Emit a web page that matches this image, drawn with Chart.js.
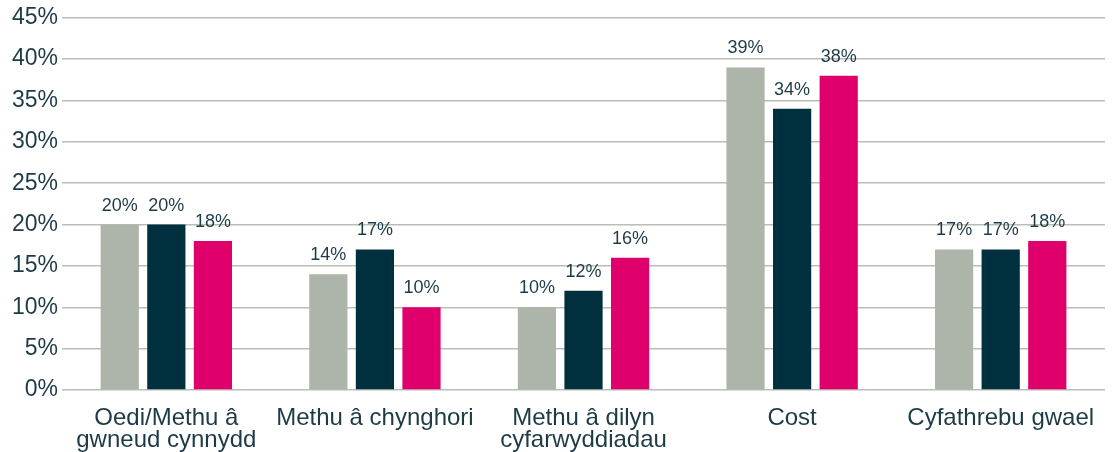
<!DOCTYPE html>
<html>
<head>
<meta charset="utf-8">
<script src="https://cdn.jsdelivr.net/npm/chart.js@4.4.1/dist/chart.umd.min.js"></script>
<style>
html,body{margin:0;padding:0;background:#fff;}
#wrap{width:1116px;height:452px;position:relative;}
</style>
</head>
<body>
<div id="wrap"><canvas id="c" width="1116" height="452"></canvas></div>
<script>
const categories = [
  ["Oedi/Methu â", "gwneud cynnydd"],
  "Methu â chynghori",
  ["Methu â dilyn", "cyfarwyddiadau"],
  "Cost",
  "Cyfathrebu gwael"
];
const seriesGrey = [20, 14, 10, 39, 17];
const seriesNavy = [20, 17, 12, 34, 17];
const seriesPink = [18, 10, 16, 38, 18];
const yTicks = [0, 5, 10, 15, 20, 25, 30, 35, 40, 45];

const textColor = '#1d3b47';
const fontFamily = '"Liberation Sans", Arial, sans-serif';

const labelPlugin = {
  id: 'barLabels',
  afterDatasetsDraw(chart) {
    const ctx = chart.ctx;
    ctx.save();
    ctx.font = '18px ' + fontFamily;
    ctx.fillStyle = textColor;
    ctx.textAlign = 'center';
    ctx.textBaseline = 'alphabetic';
    chart.data.datasets.forEach((ds, i) => {
      const meta = chart.getDatasetMeta(i);
      meta.data.forEach((bar, j) => {
        ctx.fillText(Math.round(ds.data[j]) + '%', bar.x, bar.y - 14);
      });
    });
    ctx.restore();
  }
};

new Chart(document.getElementById('c'), {
  type: 'bar',
  data: {
    labels: categories,
    datasets: [
      { data: seriesGrey, backgroundColor: '#adb4a9' },
      { data: seriesNavy, backgroundColor: '#002f3e' },
      { data: seriesPink, backgroundColor: '#e0006b' }
    ]
  },
  options: {
    responsive: false,
    animation: false,
    devicePixelRatio: 1,
    layout: { padding: { left: 8, right: 11, top: 4, bottom: 0 } },
    plugins: { legend: { display: false }, tooltip: { enabled: false } },
    datasets: { bar: { categoryPercentage: 0.67, barPercentage: 0.82 } },
    scales: {
      x: {
        grid: { display: false, drawTicks: false },
        border: { display: false },
        afterFit(scale) { scale.height = 62; },
        ticks: {
          color: textColor,
          font: { size: 24, family: fontFamily, lineHeight: 0.9 },
          padding: 18,
          maxRotation: 0,
          autoSkip: false
        }
      },
      y: {
        min: 0, max: 45,
        afterBuildTicks(axis) { axis.ticks = yTicks.map(v => ({ value: v })); },
        grid: { color: '#b9beb6', lineWidth: 1.5, drawTicks: false },
        border: { display: false },
        ticks: {
          color: textColor,
          font: { size: 23, family: fontFamily },
          padding: 4,
          callback: v => v + '%'
        }
      }
    }
  },
  plugins: [labelPlugin]
});
</script>
</body>
</html>
